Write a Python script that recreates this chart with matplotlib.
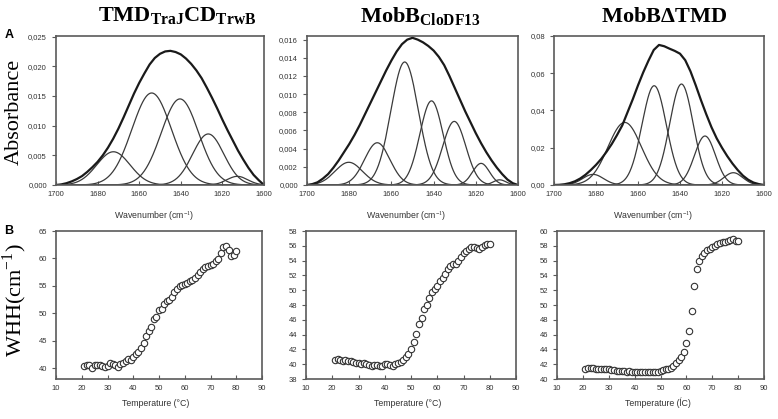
import matplotlib
matplotlib.use("Agg")
import matplotlib.pyplot as plt
import numpy as np

plt.rcParams['font.family'] = ['Liberation Sans', 'DejaVu Sans']
plt.rcParams['mathtext.fontset'] = 'custom'
plt.rcParams['mathtext.rm'] = 'Liberation Serif'
plt.rcParams['mathtext.bf'] = 'Liberation Serif:bold'

# ---- panel A: measured amide I envelope + fitted components (center, height, sigma) ----
wn_env = [1700, 1697.5, 1695, 1692.5, 1690, 1687.5, 1685, 1682.5, 1680, 1677.5,
          1675, 1672.5, 1670, 1667.5, 1665, 1662.5, 1660, 1657.5, 1655, 1652.5,
          1650, 1647.5, 1645, 1642.5, 1640, 1637.5, 1635, 1632.5, 1630, 1627.5,
          1625, 1622.5, 1620, 1617.5, 1615, 1612.5, 1610, 1607.5, 1605, 1602.5, 1600]

env_tmd = [0.0, 0.0001, 0.0003, 0.0006, 0.0010, 0.0015, 0.0022, 0.0030, 0.0039, 0.0050,
           0.0063, 0.0078, 0.0095, 0.0114, 0.0134, 0.0154, 0.0172, 0.0188, 0.0203, 0.0214,
           0.0221, 0.0225, 0.0226, 0.0224, 0.0220, 0.0213, 0.0204, 0.0193, 0.0180, 0.0164,
           0.0147, 0.0129, 0.0110, 0.0092, 0.0075, 0.0058, 0.0043, 0.0029, 0.0017, 0.0008, 0.0]
cen_tmd = [1672.4, 1654.0, 1640.4, 1626.8, 1612.8]
hgt_tmd = [0.0056, 0.0155, 0.0145, 0.0086, 0.00146]
sig_tmd = [8.0, 9.5, 9.0, 7.5, 5.0]

env_clo = [0.0, 0.0001, 0.0003, 0.0007, 0.0012, 0.0019, 0.0027, 0.0036, 0.0045, 0.0055,
           0.0066, 0.0078, 0.0090, 0.0102, 0.0114, 0.0126, 0.0137, 0.0147, 0.0155, 0.0160,
           0.0162, 0.0160, 0.0157, 0.0153, 0.0148, 0.0141, 0.0132, 0.0120, 0.0107, 0.0094,
           0.0081, 0.0069, 0.0057, 0.0046, 0.0036, 0.0027, 0.0019, 0.0012, 0.0006, 0.0002, 0.0]
cen_clo = [1680.2, 1666.7, 1653.7, 1641.0, 1630.2, 1617.5, 1608.7]
hgt_clo = [0.0025, 0.00465, 0.01354, 0.00926, 0.0070, 0.00238, 0.00057]
sig_clo = [6.5, 6.0, 6.5, 5.5, 5.5, 4.0, 3.0]

env_dtmd = [0.0, 0.0001, 0.0004, 0.0010, 0.0020, 0.0035, 0.0055, 0.0080, 0.0108, 0.0140,
            0.0178, 0.0220, 0.0268, 0.0320, 0.0390, 0.0460, 0.0535, 0.0605, 0.0668, 0.0725,
            0.0752, 0.0745, 0.0732, 0.0720, 0.0705, 0.0670, 0.0610, 0.0535, 0.0455, 0.0380,
            0.0310, 0.0250, 0.0200, 0.0155, 0.0115, 0.0080, 0.0050, 0.0028, 0.0013, 0.0005, 0.0]
cen_dtmd = [1681.4, 1666.3, 1652.3, 1639.3, 1628.1, 1614.6]
hgt_dtmd = [0.0057, 0.0336, 0.0533, 0.0542, 0.0263, 0.0066]
sig_dtmd = [5.0, 8.0, 5.8, 5.6, 5.0, 4.5]

# ---- panel B: WHH vs temperature ----
temp = list(range(21, 81))
whh_tmd = [40.3, 40.5, 40.5, 40.0, 40.6, 40.6, 40.5, 40.4, 40.2, 40.3,
           40.9, 40.7, 40.5, 40.2, 40.7, 40.9, 41.2, 41.6, 41.5, 42.0,
           42.5, 43.0, 43.6, 44.6, 45.9, 46.8, 47.5, 48.9, 49.3, 50.6,
           50.8, 51.7, 52.2, 52.5, 53.0, 53.8, 54.5, 55.0, 55.2, 55.3,
           55.6, 55.8, 56.0, 56.5, 57.0, 57.5, 58.0, 58.4, 58.6, 58.8,
           59.0, 59.6, 59.9, 61.0, 62.0, 62.3, 61.6, 60.5, 60.7, 61.3]
whh_clo = [40.6, 40.7, 40.5, 40.4, 40.5, 40.4, 40.4, 40.3, 40.1, 40.1,
           40.0, 40.1, 40.0, 39.9, 39.7, 39.9, 39.9, 39.8, 39.8, 40.0,
           40.0, 39.9, 39.8, 40.0, 40.2, 40.3, 40.6, 41.0, 41.4, 42.1,
           43.0, 44.1, 45.4, 46.3, 47.4, 48.0, 49.0, 49.7, 50.2, 50.5,
           51.3, 51.7, 52.2, 52.8, 53.3, 53.6, 53.5, 54.0, 54.5, 55.0,
           55.3, 55.5, 55.9, 55.8, 55.7, 55.5, 55.8, 56.1, 56.3, 56.2]
whh_dtmd = [41.4, 41.5, 41.5, 41.5, 41.4, 41.4, 41.4, 41.3, 41.3, 41.3,
            41.2, 41.2, 41.1, 41.1, 41.1, 41.1, 41.0, 41.1, 41.0, 41.0,
            41.0, 41.0, 41.0, 41.0, 41.0, 41.0, 41.0, 40.9, 41.0, 41.1,
            41.2, 41.3, 41.4, 41.5, 41.8, 42.2, 42.6, 43.0, 43.6, 44.8,
            46.5, 49.2, 52.6, 54.9, 56.0, 56.6, 57.0, 57.4, 57.6, 57.8,
            58.0, 58.2, 58.4, 58.5, 58.5, 58.6, 58.8, 58.9, 58.7, 58.7]

titles = [r'$\mathbf{TMD_{TraJ}CD_{TrwB}}$', r'$\mathbf{MobB_{CloDF13}}$',
          r'$\mathbf{MobB\Delta TMD}$']
title_x = [177, 420, 664]
temp_labels = ['Temperature (°C)', 'Temperature (°C)', 'Temperature (ĺC)']

spectra = [(env_tmd, cen_tmd, hgt_tmd, sig_tmd, 0.0251, [0, 0.005, 0.010, 0.015, 0.020, 0.025], '{:.3f}'),
           (env_clo, cen_clo, hgt_clo, sig_clo, 0.0164, [0, 0.002, 0.004, 0.006, 0.008, 0.010, 0.012, 0.014, 0.016], '{:.3f}'),
           (env_dtmd, cen_dtmd, hgt_dtmd, sig_dtmd, 0.080, [0, 0.02, 0.04, 0.06, 0.08], '{:.2f}')]
melts = [(whh_tmd, 38, 65, list(range(40, 66, 5))),
         (whh_clo, 38, 58, list(range(38, 59, 2))),
         (whh_dtmd, 40, 60, list(range(40, 61, 2)))]

W, H = 778, 419
fig = plt.figure(figsize=(W / 100, H / 100), dpi=100)

col_a = [(56, 264), (307, 518), (554, 764)]
col_b = [(56, 262), (306, 516), (557, 764)]
frame_c = '#5a5a5a'
tick_c = '#333333'


def box(x0, x1, ytop, ybot):
    return [x0 / W, 1 - ybot / H, (x1 - x0) / W, (ybot - ytop) / H]


def style(ax):
    for s in ax.spines.values():
        s.set_color(frame_c)
        s.set_linewidth(1.2)
    ax.tick_params(labelsize=5.5, colors=frame_c, labelcolor=tick_c, length=3, width=0.8)
    ax.tick_params(axis='x', direction='in', pad=4)


grid = np.linspace(1600, 1700, 500)
for i in range(3):
    env, cen, hgt, sig, ytop, yt, fmt = spectra[i]
    ax = fig.add_axes(box(*col_a[i], 36, 185))
    for c, h, s in zip(cen, hgt, sig):
        ax.plot(grid, h * np.exp(-(grid - c) ** 2 / (2 * s ** 2)), color='#3a3a3a', lw=0.9)
    ax.plot(wn_env, env, color='#1a1a1a', lw=1.6)
    ax.set_xlim(1700, 1600)
    ax.set_ylim(0, ytop)
    ax.set_xticks([1700, 1680, 1660, 1640, 1620, 1600])
    ax.set_yticks(yt)
    ax.set_yticklabels([fmt.format(v).replace('.', ',') for v in yt])
    style(ax)
    cx = (col_a[i][0] + col_a[i][1]) / 2 - 6
    fig.text(cx / W, 1 - 216 / H, 'Wavenumber (cm$^{-1}$)', fontsize=6.3,
             color=tick_c, ha='center', va='center')
    fig.text(title_x[i] / W, 1 - 16 / H, titles[i], fontsize=16, ha='center', va='center')

for i in range(3):
    whh, y0, y1, yt = melts[i]
    ax = fig.add_axes(box(*col_b[i], 231, 379))
    ax.plot(temp, whh, 'o', ms=4.6, mfc='white', mec='#333333', mew=0.8)
    ax.set_xlim(10, 90)
    ax.set_ylim(y0, y1)
    ax.set_xticks(range(10, 91, 10))
    ax.set_yticks(yt)
    style(ax)
    cx = (col_b[i][0] + col_b[i][1]) / 2 - 3
    fig.text(cx / W, 1 - 403 / H, temp_labels[i], fontsize=6.3,
             color=tick_c, ha='center', va='center')

fig.text(9 / W, 1 - 35 / H, 'A', fontsize=9, fontweight='bold', ha='center', va='center')
fig.text(9 / W, 1 - 231 / H, 'B', fontsize=9, fontweight='bold', ha='center', va='center')
fig.text(14 / W, 1 - 112 / H, 'Absorbance', fontsize=16, family='Liberation Serif',
         rotation=90, ha='center', va='center')
fig.text(15 / W, 1 - 300 / H, 'WHH(cm$^{-1}$)', fontsize=16, family='Liberation Serif',
         rotation=90, ha='center', va='center')

fig.savefig('out.png', dpi=100)
